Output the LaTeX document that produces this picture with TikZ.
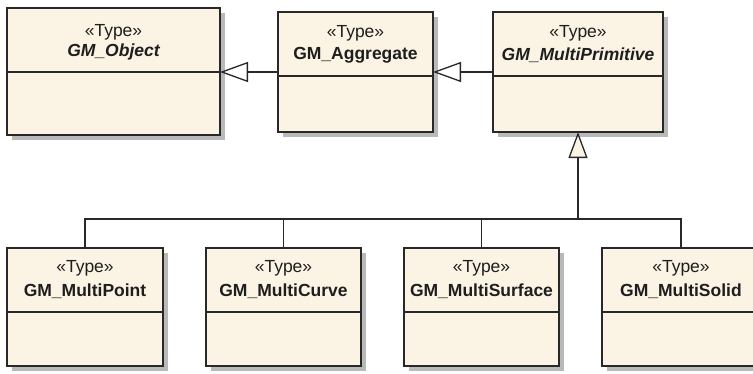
\documentclass[tikz,border=0pt]{standalone}
\usepackage{fontspec}
\setmainfont{Liberation Sans}
\usetikzlibrary{arrows.meta}
\pgfdeclarelayer{bg}
\pgfsetlayers{bg,main}
\definecolor{boxfill}{RGB}{251,243,228}
\definecolor{edge}{RGB}{40,40,40}
\definecolor{txt}{RGB}{30,30,30}
\definecolor{shade}{RGB}{185,185,185}
\begin{document}
\begin{tikzpicture}[x=1pt,y=-1pt,
  cls/.style={draw=edge, line width=1.4pt, fill=boxfill, inner sep=0pt, outer sep=0pt, anchor=north west},
  shadowbox/.style={fill=shade},
  stereo/.style={font=\fontsize{17.5}{20}\selectfont, text=txt},
  cname/.style={font=\fontsize{17.5}{20}\selectfont\bfseries, text=txt},
  aname/.style={font=\fontsize{17.5}{20}\selectfont\bfseries\itshape, text=txt},
  divider/.style={draw=edge, line width=1.4pt},
  link/.style={draw=edge, line width=1.3pt},
  gen/.style={link, -{Triangle[open, length=28pt, width=20pt, fill=white]}},
  genv/.style={link, -{Triangle[open, length=26pt, width=19pt, fill=boxfill]}}
]
\useasboundingbox (0,0) rectangle (753,373);

% top row
\node[cls, minimum width=213pt, minimum height=127pt] (obj) at (7,8) {};
\node[cls, minimum width=155pt, minimum height=120pt] (agg) at (278,12) {};
\node[cls, minimum width=170pt, minimum height=120pt] (mp) at (493,12) {};
\draw[divider] (obj.west |- 0,72) -- (obj.east |- 0,72);
\draw[divider] (agg.west |- 0,76) -- (agg.east |- 0,76);
\draw[divider] (mp.west |- 0,76) -- (mp.east |- 0,76);
\node[stereo] (objs) at (obj.north |- 0,32) {«Type»};
\node[aname] (objn) at (obj.north |- 0,52) {GM\_Object};
\node[stereo] (aggs) at (agg.north |- 0,33) {«Type»};
\node[cname] (aggn) at (agg.north |- 0,55) {GM\_Aggregate};
\node[stereo] (mps) at (mp.north |- 0,33) {«Type»};
\node[aname] (mpn) at (mp.north |- 0,55) {GM\_MultiPrimitive};

% bottom row
\node[cls, minimum width=156pt, minimum height=118pt] (pt) at (7,248) {};
\node[cls, minimum width=155pt, minimum height=118pt] (cv) at (206,248) {};
\node[cls, minimum width=155pt, minimum height=118pt] (sf) at (404,248) {};
\node[cls, minimum width=158pt, minimum height=118pt] (sd) at (602,248) {};
\foreach \b in {pt,cv,sf,sd}{
  \draw[divider] (\b.west |- 0,312) -- (\b.east |- 0,312);
  \node[stereo] (\b s) at (\b.north |- 0,268) {«Type»};
}
\node[cname] (ptn) at (pt.north |- 0,291) {GM\_MultiPoint};
\node[cname] (cvn) at (cv.north |- 0,291) {GM\_MultiCurve};
\node[cname] (sfn) at (sf.north |- 0,291) {GM\_MultiSurface};
\node[cname] (sdn) at (sd.north |- 0,291) {GM\_MultiSolid};

% shadows
\begin{pgfonlayer}{bg}
\foreach \b in {obj,agg,mp,pt,cv,sf,sd}{
  \fill[shadowbox] ([shift={(5,5)}]\b.north west) rectangle ([shift={(5,5)}]\b.south east);
}
\end{pgfonlayer}

% generalizations
\draw[gen] (agg.west |- 0,72) -- (obj.east |- 0,72);
\draw[gen] (mp.west |- 0,72) -- (agg.east |- 0,72);
\coordinate (j) at (mp.south |- 0,219);
\draw[genv] (j) -- (mp.south);
\draw[link] (pt.north) -- (pt.north |- j) -- (sd.north |- j) -- (sd.north);
\draw[link] (cv.north) -- (cv.north |- j);
\draw[link] (sf.north) -- (sf.north |- j);
\end{tikzpicture}
\end{document}
